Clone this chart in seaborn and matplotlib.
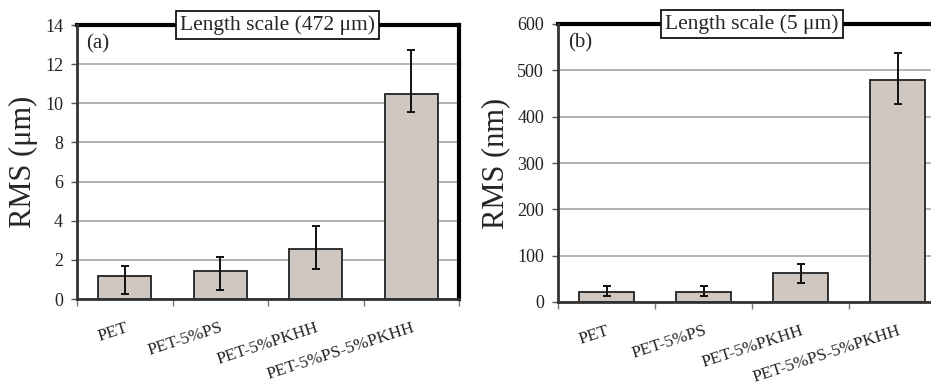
import numpy as np
import pandas as pd
import matplotlib
matplotlib.use('Agg')
import matplotlib.pyplot as plt
import seaborn as sns

# Data
samples = ['PET', 'PET-5%PS', 'PET-5%PKHH', 'PET-5%PS-5%PKHH']

rms_472 = [1.2, 1.45, 2.55, 10.5]          # um
err_lo_472 = [0.95, 1.0, 1.0, 0.95]
err_hi_472 = [0.5, 0.7, 1.2, 2.2]

rms_5 = [22, 22, 62, 480]                  # nm
err_lo_5 = [10, 10, 22, 53]
err_hi_5 = [13, 13, 20, 57]

sns.set_theme(style='white')
plt.rcParams['font.family'] = ['Liberation Serif', 'DejaVu Serif']

bar_color = '#d1c7c1'
grid_color = '#a39d97'

fig = plt.figure(figsize=(9.31, 3.88), dpi=100)
W, H = 931, 388
axes_px = [(77, 25, 459, 299), (558, 24, 946, 302)]
panels = [
    (rms_472, err_lo_472, err_hi_472, 14, 2, 'RMS (\u03bcm)', '(a)', 'Length scale (472 \u03bcm)', 0.524),
    (rms_5, err_lo_5, err_hi_5, 600, 100, 'RMS (nm)', '(b)', 'Length scale (5 \u03bcm)', 0.5),
]

for (x0, y0, x1, y1), (vals, lo, hi, ymax, step, ylabel, tag, title, tx) in zip(axes_px, panels):
    ax = fig.add_axes([x0 / W, 1 - y1 / H, (x1 - x0) / W, (y1 - y0) / H])
    df = pd.DataFrame({'sample': samples, 'rms': vals})
    sns.barplot(data=df, x='sample', y='rms', color=bar_color, edgecolor='#222222',
                linewidth=1.3, width=0.56, saturation=1, errorbar=None, ax=ax, zorder=3)
    ax.errorbar(np.arange(len(samples)), vals, yerr=[lo, hi], fmt='none',
                ecolor='#111111', elinewidth=1.4, capsize=3, capthick=1.4, zorder=4)

    ax.set_xlim(-0.5, len(samples) - 0.5)
    ax.set_ylim(0, ymax)
    ax.set_yticks(np.arange(0, ymax + step, step))
    ax.yaxis.grid(True, color=grid_color, linewidth=1.1, zorder=0)
    ax.set_axisbelow(True)

    # category boundary ticks, Excel style
    ax.set_xticks(np.arange(-0.5, len(samples), 1.0), minor=False)
    ax.set_xticklabels([])
    ax.set_xticks(np.arange(len(samples)), minor=True)
    ax.set_xticklabels(samples, minor=True, rotation=18, ha='right',
                       rotation_mode='anchor', fontsize=12.5)
    ax.tick_params(axis='x', which='major', direction='out', length=5, width=1,
                   color='#777777', bottom=True)
    ax.tick_params(axis='x', which='minor', length=0, pad=15)
    ax.tick_params(axis='y', direction='out', length=4, width=1, color='#555555',
                   left=True, labelsize=13, pad=6, labelcolor='#222222')

    for side in ['top', 'right']:
        ax.spines[side].set_color('black')
        ax.spines[side].set_linewidth(3)
    for side in ['left', 'bottom']:
        ax.spines[side].set_color('#333333')
        ax.spines[side].set_linewidth(2)
        ax.spines[side].set_zorder(5)

    ax.set_xlabel('')
    ax.set_ylabel(ylabel, fontsize=22, labelpad=5)
    ax.text(0.025, 0.965, tag, transform=ax.transAxes, fontsize=15, va='top', ha='left')
    ax.text(tx, 1.0, title, transform=ax.transAxes,
            fontsize=15.5, va='center', ha='center', zorder=6,
            bbox=dict(boxstyle='square,pad=0.18', facecolor='white',
                      edgecolor='black', linewidth=1.2))

fig.savefig('out.png', dpi=100)
